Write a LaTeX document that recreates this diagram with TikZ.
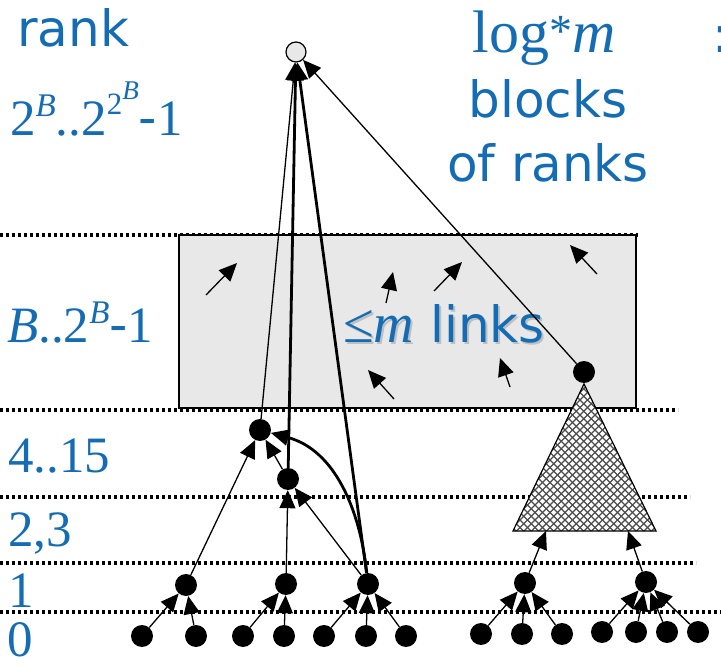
\documentclass[tikz,border=0pt]{standalone}
\usepackage{fontspec}
\setmainfont{Liberation Serif}
\newfontfamily\vsans{DejaVu Sans}
\usetikzlibrary{arrows.meta}
\definecolor{rankblue}{RGB}{20,108,180}
\definecolor{boxgray}{RGB}{232,232,232}
% raised superscript: size, raise, content
\newcommand\rsup[3]{\raisebox{#2pt}{\fontsize{#1}{#1}\selectfont #3}}
\begin{document}
\begin{tikzpicture}[x=1pt,y=-1pt,
  lab/.style={text=rankblue, inner sep=0, anchor=base west, font=\fontsize{51}{60}\selectfont},
  slab/.style={lab, font=\vsans\fontsize{50}{60}\selectfont},
  dot/.style={circle, fill=black, minimum size=22pt, inner sep=0},
  root/.style={circle, draw=black, fill=boxgray, line width=1.2pt, minimum size=20pt, inner sep=0},
  lvl/.style={line width=3.2pt, dash pattern=on 3pt off 3pt},
  link/.style={line width=1.3pt, arrows={-Triangle[length=18pt,width=16pt]}},
  heavy/.style={line width=2.8pt, arrows={-Triangle[length=18pt,width=16pt]}},
  hatch/.style={line width=1.3pt, draw=black!70},
]
\useasboundingbox (0,0) rectangle (721,668);

% rank boundaries
\draw[lvl] (0,235) -- (638,235);
\draw[lvl] (0,410) -- (678,410);
\draw[lvl] (0,497) -- (690,497);
\draw[lvl] (0,563) -- (696,563);
\draw[lvl] (0,612) -- (721,612);

% block of ranks B..2^B-1
\draw[fill=boxgray, line width=1.2pt] (179,235) rectangle (636,408);

% subtree drawn as a hatched triangle
\fill[white] (584,384) -- (513,531) -- (656,531) -- cycle;
\begin{scope}
  \clip (584,384) -- (513,531) -- (656,531) -- cycle;
  \foreach \k in {0,...,65} {
    \draw[hatch] (340+\k*7.5,370) -- ++(170,170);
    \draw[hatch] (340+\k*7.5,370) -- ++(-170,170);
  }
\end{scope}
\draw[line width=1.2pt, line join=miter] (584,384) -- (513,531) -- (656,531) -- cycle;
\coordinate (tb1) at (546,531);
\coordinate (tb2) at (628,531);

% labels
\node[slab] (rk) at (17,47) {rank};
\node[lab] (rtop) at (10,136) {2\rsup{33}{19}{\textit{B}}..2\rsup{31}{21}{2\rsup{27}{15}{\textit{B}}}{\vsans -}1};
\node[lab] (rblk) at (7,343) {\textit{B}..2\rsup{33}{19}{\textit{B}}{\vsans -}1};
\node[lab] (r4) at (8,473) {4..15};
\node[lab] (r2) at (8,547) {2,3};
\node[lab] (r1) at (8,607) {1};
\node[lab] (r0) at (7,656) {0};
\node[lab, anchor=base, font=\fontsize{60}{70}\selectfont] (lg) at (544,53) {log\rsup{46}{6}{*}\textit{m}};
\node[slab, anchor=base] (bl) at (548,118) {blocks};
\node[slab, anchor=base] (ofr) at (548,182) {of ranks};
\node[slab] (col) at (712,53) {:};
\node[lab, text=black!25, font=\fontsize{56}{60}\selectfont] (lkshadow) at (345,345) {≤\textit{m}{\vsans\fontsize{50}{60}\selectfont\ links}};
\node[lab, font=\fontsize{56}{60}\selectfont] (lk) at (343,343) {≤\textit{m}{\vsans\fontsize{50}{60}\selectfont\ links}};

% free links inside the block
\coordinate (f1s) at (206,295); \coordinate (f1e) at (237,263);
\coordinate (f2s) at (386,303); \coordinate (f2e) at (393,272);
\coordinate (f3s) at (434,291); \coordinate (f3e) at (462,262);
\coordinate (f4s) at (597,274); \coordinate (f4e) at (570,245);
\coordinate (f5s) at (394,399); \coordinate (f5e) at (368,370);
\coordinate (f6s) at (510,387); \coordinate (f6e) at (500,358);
\foreach \i in {1,...,6} \draw[link] (f\i s) -- (f\i e);

% nodes
\node[root] (T) at (296,52) {};
\node[dot] (P) at (584,372) {};
\node[dot] (H) at (260,430) {};
\node[dot] (M) at (288,479) {};

\node[dot] (A) at (186,585) {};
\node[dot] (Bn) at (286,584) {};
\node[dot] (C) at (368,584) {};
\node[dot] (D) at (525,583) {};
\node[dot] (E) at (646,582) {};

\node[dot] (a1) at (142,636) {};
\node[dot] (a2) at (196,636) {};
\node[dot] (b1) at (243,636) {};
\node[dot] (b2) at (284,636) {};
\node[dot] (c1) at (324,636) {};
\node[dot] (c2) at (366,636) {};
\node[dot] (c3) at (406,636) {};
\node[dot] (d1) at (481,634) {};
\node[dot] (d2) at (522,634) {};
\node[dot] (d3) at (562,634) {};
\node[dot] (e1) at (602,632) {};
\node[dot] (e2) at (636,632) {};
\node[dot] (e3) at (667,632) {};
\node[dot] (e4) at (698,632) {};

% rank 0 -> rank 1
\draw[link] (a1) -- (A);
\draw[link] (a2) -- (A);
\draw[link] (b1) -- (Bn);
\draw[link] (b2) -- (Bn);
\draw[link] (c1) -- (C);
\draw[link] (c2) -- (C);
\draw[link] (c3) -- (C);
\draw[link] (d1) -- (D);
\draw[link] (d2) -- (D);
\draw[link] (d3) -- (D);
\draw[link] (e1) -- (E);
\draw[link] (e2) -- (E);
\draw[link] (e3) -- (E);
\draw[link] (e4) -- (E);

% upper ranks
\draw[link] (A) -- (H);
\draw[link] (Bn) -- (M);
\draw[link] (C) -- (M);
\draw[link] (M) -- (H);
\draw[heavy] (C) .. controls (360,510) and (335,450) .. (H);
\draw[link] (H) -- (T);
\draw[heavy] (M) -- (T);
\draw[heavy] (C) -- (T);
\draw[link] (P) -- (T);
\draw[link] (D) -- (tb1);
\draw[link] (E) -- (tb2);
\end{tikzpicture}
\end{document}
